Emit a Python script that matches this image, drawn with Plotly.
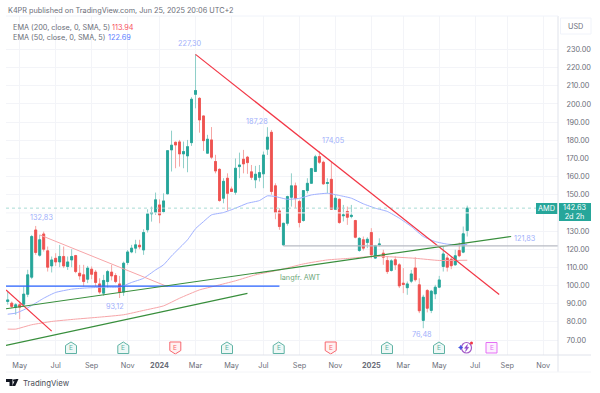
import plotly.graph_objects as go
import pandas as pd

dates = [d.strftime("%Y-%m-%d") for d in pd.date_range("2023-04-10", "2025-06-23", freq="7D")]

opens = [91.2,90.3,88.1,89.4,89.7,95.2,104.6,130.6,116.7,128.4,119.1,110.8,115,113,116,110.5,114.1,116.5,106.8,105.9,
 103.5,109,107.4,100.9,95.8,102.2,107.4,105.5,100.9,96.4,112.7,118.5,120.6,122.2,119.6,130.7,139.5,140.2,144.4,140.7,
 150.5,174.7,178.9,179.1,172.5,171.4,178.7,205.3,203.1,193.4,172.9,180.2,168.3,164,148.1,159.1,153.2,151.4,165.5,169.6,
 170.7,162.6,158.2,159.6,161.5,175.1,184.4,154.9,141.1,122.4,134.3,148.6,154.9,146.3,135.8,152.3,156.3,162.8,171,167.9,
 156.2,158.5,142,147.5,138.4,140.8,138,135.8,119.3,125.2,123.7,129.2,115.1,122.4,117.8,113.8,108.3,114.2,111.4,101.3,
 98.8,102.4,109.7,100.4,80.8,97.3,86.3,95.4,99.1,110.5,115.2,114.5,111.4,119.3,118.4,130.3]
highs = [96.7,91.2,90.3,91.2,99.4,108.7,127.9,132.83,127.9,129.7,121.5,116,117.8,122.4,121.5,116,120,116.9,111.4,111.4,
 110.8,110.5,108.6,104,105.9,108.6,111.4,106.8,105.3,113.2,119.6,122.4,125.2,125.2,131,142,143.5,151.2,147.5,150.8,
 174.6,185.3,179.3,180.2,179.3,180.2,203.7,227.3,203.7,193.6,183,187.28,172,164.5,159.1,161.8,154.5,170,173.2,174.7,
 171.4,166.4,165.9,166.4,173.8,187.2,185.7,156.3,142.6,134.5,149.5,161.8,156.7,147.2,152.6,159.1,164.8,172,174.05,168.8,
 159.1,168.3,149.9,148,144.4,143.5,144.4,136.2,126.6,127,126.6,131.6,122.4,126,119.7,116,114.5,116,112.3,109.6,
 102.2,108.6,115.6,104,94.9,98,97.6,100.4,105.3,121.5,116.9,116,119.7,123.7,132.5,144]
lows = [89.4,87.6,83.9,81.5,88.4,93.6,103.5,116.9,115.9,118.7,107.7,107.2,110.8,110.1,109.6,108.6,110.1,106.8,103.2,99.5,
 101.3,103.5,99.5,95.4,94.3,98.6,102.8,101.3,93.12,94.3,111.4,117.8,117.8,120,116.9,129.2,135.2,138.9,134.3,139.8,
 150.3,162.8,164.6,165.5,164.6,162.4,176.9,197.6,184.2,174.1,172.7,169.6,161.8,146.2,145.3,141.3,151.5,150,159.1,161.8,
 161.5,158.2,153.6,157.3,153.6,171.9,150,136.5,130.7,121.83,133,143.5,142.6,132,135.2,150.8,156,162.5,167,155.5,
 150.8,141.7,141.7,134,135.3,133.4,137,126,118.6,119.3,120.6,115,114.6,121.5,111.4,106.4,107.7,108.6,98.6,95.8,
 94.9,101.3,102.2,84.8,76.48,85.2,84.8,92.5,98.6,107.7,107.7,109,111,115.6,117.8,127]
closes = [92.1,88.5,89.4,88.1,95.3,105.9,127,118.2,125.2,120,110.1,114.1,113,116,110.8,113,116,107.7,105.3,102.2,
 109.6,106.2,101.7,96.4,102.8,107.7,105.3,102.2,96.2,112.3,118.5,120.6,122.4,121.3,129.2,139.5,140.2,147.2,138.9,146.6,
 174.3,177.3,177.4,172.5,173.8,176.5,202.6,207.4,191.2,179.8,180.6,170.7,163.1,146.8,157.4,150.8,151.8,164.6,166.4,167,
 167.7,159.6,161.3,162.2,171.9,181.7,151.8,140.2,132.5,134.3,149,154.9,148.1,134.7,152.3,156.3,164.4,170.9,167.9,156,
 156.7,142,148.1,134.7,138.9,137.6,138.7,126.6,126,120.6,125.5,116.9,121.9,122.9,115.6,107.7,113.6,111.4,99.8,100.6,
 100.9,106.4,103.2,86.1,93.6,87.5,96.9,99.1,103.1,117.4,110.1,110.9,116.4,116.4,128.5,142.63]

ema50_i = [0,2,4,6,9,12,16,20,24,28,31,34,37,39,41,45,47,49,51,54,57,60,63,65,67,70,73,76,80,83,86,89,92,95,98,101,104,107,110,113,115]
ema50 = [84.2,84.8,86.6,89,93,96.2,98,98.7,99.1,99.1,101.7,104,108.6,111.4,116.3,125.2,131.3,135.2,138.9,140.2,142.6,145.3,146.8,149.4,149,147.5,148,149.9,150.8,149.6,148.1,145,142.6,140.8,137.1,132.5,127,124.2,122.8,122.4,122.69]
ema200_i = [0,2,6,11,17,23,29,34,39,43,48,52,57,62,68,74,80,85,91,94,102,108,115]
ema200 = [76,76,78.4,80.2,81.5,82.6,83.9,86.3,88.8,93,97.6,99.8,102.6,105.9,108.6,111.9,114.1,114.9,116,116,115,113.8,113.94]

x_ticks = ["2023-05-01","2023-07-03","2023-09-04","2023-11-06","2024-01-01","2024-03-04","2024-05-06","2024-07-01","2024-09-02","2024-11-04","2025-01-06","2025-03-03","2025-05-05","2025-07-07","2025-09-01","2025-11-03"]
x_labels = ["May","Jul","Sep","Nov","<b>2024</b>","Mar","May","Jul","Sep","Nov","<b>2025</b>","Mar","May","Jul","Sep","Nov"]
y_ticks = [70,80,90,100,110,120,130,150,160,170,180,190,200,210,220,230]
y_grid_extra = [140]
y_labels = [f"{v}.00" for v in y_ticks]

X0, X1 = "2023-04-07", "2025-11-29"
trend_lines = [
    ("main_red", ["2024-03-04","2025-08-18"], [227.3,95.1], "#f23645", 1.2),
    ("light_red", ["2023-06-05","2024-01-15"], [127.9,99.4], "#f7a5a8", 1),
    ("steep_red", [X0,"2023-06-26"], [97.6,74.9], "#f23645", 1.2),
    ("support", [X0,"2024-07-29"], [99.65,99.65], "#2962ff", 1.3),
    ("green_1", [X0,"2025-09-08"], [87.2,127], "#388e3c", 1.2),
    ("green_2", [X0,"2024-06-03"], [67,95.7], "#388e3c", 1.2),
    ("grey", ["2024-08-05",X1], [121.83,121.83], "#b8bbc4", 1.1),
]

UP, DOWN = "#26a69a", "#ef5350"
UP_W, DOWN_W = "#8fcfc9", "#f5a6a4"
FONT = "Inter"
GREY = "#6a6d78"
TS = 7.3
L, R, T, B = 6, 558, 16, 355
def px(x): return (x - L) / (R - L)
def py(y): return (B - y) / (B - T)

fig = go.Figure()
fig.add_trace(go.Scatter(x=[X0, X1], y=[y_grid_extra[0]]*2, mode="lines", line=dict(color="#f3f4f8", width=1)))
fig.add_trace(go.Scatter(x=[dates[i] for i in ema50_i], y=ema50, mode="lines", line=dict(color="#9fb0ff", width=1, shape="spline", smoothing=0.5)))
fig.add_trace(go.Scatter(x=[dates[i] for i in ema200_i], y=ema200, mode="lines", line=dict(color="#f7a5a8", width=1, shape="spline", smoothing=0.5)))
fig.add_trace(go.Scatter(x=[X0, "2025-10-26"], y=[closes[-1], closes[-1]], mode="lines",
                         line=dict(color="#a8dbd5", width=1, dash="dot")))
fig.add_trace(go.Candlestick(x=dates, open=opens, high=highs, low=lows, close=closes, whiskerwidth=0,
    increasing=dict(line=dict(color=UP_W, width=1), fillcolor=UP), decreasing=dict(line=dict(color=DOWN_W, width=1), fillcolor=DOWN)))
fig.add_trace(go.Candlestick(x=dates, open=opens, close=closes,
    high=[max(a, b) for a, b in zip(opens, closes)], low=[min(a, b) for a, b in zip(opens, closes)], whiskerwidth=0,
    increasing=dict(line=dict(color=UP, width=0.8), fillcolor=UP), decreasing=dict(line=dict(color=DOWN, width=0.8), fillcolor=DOWN)))
for name, xs, ys, col, w in trend_lines:
    fig.add_trace(go.Scatter(x=xs, y=ys, mode="lines", name=name, line=dict(color=col, width=w)))

shapes, anns = [], []
def text(x, y, s, color=GREY, size=TS, anchor="center", **kw):
    anns.append(dict(x=px(x), y=py(y), xref="paper", yref="paper", text=s, showarrow=False, xanchor=anchor, yanchor="middle",
                     font=dict(family=FONT, size=size, color=color), **kw))
def path(d, line, fill="rgba(0,0,0,0)", w=1):
    shapes.append(dict(type="path", path=d, xref="paper", yref="paper", line=dict(color=line, width=w), fillcolor=fill))
def poly(points):
    return "M " + " L ".join(f"{px(a):.5f},{py(b):.5f}" for a, b in points) + " Z"
def rect(x0, y0, x1, y1, fill, line=None):
    shapes.append(dict(type="rect", xref="paper", yref="paper", x0=px(x0), x1=px(x1), y0=py(y1), y1=py(y0), fillcolor=fill,
                       line=dict(color=line or fill, width=1 if line else 0)))

# header + legend
text(6, 10.5, "K4PR published on TradingView.com, Jun 25, 2025 20:06 UTC+2", anchor="left")
text(11, 27, "EMA (200, close, 0, SMA, 5)", anchor="left")
text(110, 27, "113.94", "#f7525f", anchor="left")
text(11, 37, "EMA (50, close, 0, SMA, 5)", anchor="left")
text(106, 37, "122.69", "#5b7cff", anchor="left")

# value labels
for lx, ly, s in [(190,43,"227,30"),(257,121,"187,28"),(333,140.7,"174,05"),(41,217.7,"132,83"),(114.5,306.7,"93,12"),(422,334.7,"76,48"),(524.7,238,"121,83")]:
    text(lx, ly, s, "#9fb0fb")
text(300, 277.3, "langfr. AWT", "#6ea67a")

# earnings icons
for cx, kind in [(71,"g"),(123.3,"g"),(175.3,"r"),(227,"g"),(278.7,"g"),(330.7,"r"),(387,"g"),(439,"g")]:
    if kind == "g":
        col, tint = "#5fb3a4", "#eef8f6"
        pts = [(cx-5.5,345.5),(cx,342),(cx+5.5,345.5),(cx+5.5,353.5),(cx-5.5,353.5)]
    else:
        col, tint = "#f7676f", "#fff1f1"
        pts = [(cx-5.5,342),(cx+5.5,342),(cx+5.5,350.5),(cx,354),(cx-5.5,350.5)]
    path(poly(pts), col, tint, 1)
    text(cx, 348, "E", col, 6.5)
path(poly([(486,342.5),(497,342.5),(497,353),(486,353)]), "#e56ff5", "#fcf0fe", 1)
text(491.5, 347.8, "E", "#e56ff5", 6.5)
# dividend/lightning icon
shapes.append(dict(type="circle", xref="paper", yref="paper", x0=px(461.5), x1=px(471.5), y0=py(353), y1=py(342.5),
                   line=dict(color="#a45bc8", width=1.2), fillcolor="white"))
path(poly([(467.5,344.5),(464.5,348.3),(466.4,348.3),(465.5,351.5),(468.7,347.3),(466.8,347.3)]), "#8e44c9", "#8e44c9", 0.5)
path(poly([(458.5,347.5),(460,346.7),(460.7,345.2),(461.4,346.7),(463,347.5),(461.4,348.3),(460.7,349.8),(460,348.3)]), "#3f51e0", "#3f51e0", 0.5)
shapes.append(dict(type="circle", xref="paper", yref="paper", x0=px(470), x1=px(473), y0=py(344.5), y1=py(341.5),
                   line=dict(width=0), fillcolor="#f23645"))

# price labels
rect(536, 203, 557.5, 214, UP)
text(546.8, 208.5, "AMD", "white")
rect(559, 203, 591, 221, UP)
text(575, 212, "142.63<br>2d 2h", "white")
rect(560.5, 18, 591, 34, "white", "#f0f3fa")
text(575.5, 26.5, "USD")

# axis frame
shapes.append(dict(type="line", xref="paper", yref="paper", x0=px(R), x1=px(R), y0=py(372), y1=py(T), line=dict(color="#e0e3eb", width=1)))
shapes.append(dict(type="line", xref="paper", yref="paper", x0=px(L), x1=px(591), y0=py(372), y1=py(372), line=dict(color="#f4f5f8", width=1)))
shapes.append(dict(type="line", xref="paper", yref="paper", x0=px(L), x1=px(591), y0=py(355), y1=py(355), line=dict(color="#e0e3eb", width=1)))
shapes.append(dict(type="line", xref="paper", yref="paper", x0=px(L), x1=px(R), y0=py(T), y1=py(T), line=dict(color="#f0f3fa", width=1)))

# TradingView logo
path(poly([(6,379),(12.5,379),(12.5,386),(9.5,386),(9.5,382),(6,382)]), "#131722", "#131722", 0)
shapes.append(dict(type="circle", xref="paper", yref="paper", x0=px(13), x1=px(15.4), y0=py(381.6), y1=py(379.2), line=dict(width=0), fillcolor="#131722"))
path(poly([(15.5,379),(18.5,379),(15.2,386),(12.2,386)]), "#131722", "#131722", 0)
text(20.5, 382.5, "TradingView", "#4a4d57", 7.8, "left")

fig.update_layout(
    width=600, height=393, autosize=False, margin=dict(l=L, r=600-R, t=T, b=393-B),
    paper_bgcolor="white", plot_bgcolor="white", showlegend=False, shapes=shapes, annotations=anns,
    font=dict(family=FONT, size=TS, color=GREY),
    xaxis=dict(type="date", range=[X0, X1], rangeslider=dict(visible=False), tickmode="array", tickvals=x_ticks, ticktext=x_labels,
               showgrid=True, gridcolor="#f3f4f8", gridwidth=1, ticks="outside", ticklen=3, tickcolor="white", zeroline=False, showline=False,
               tickfont=dict(family=FONT, size=TS, color=GREY)),
    yaxis=dict(side="right", range=[61.74, 248.45], tickmode="array", tickvals=y_ticks, ticktext=y_labels, showgrid=True,
               gridcolor="#f3f4f8", gridwidth=1, ticks="outside", ticklen=6, tickcolor="white", zeroline=False, showline=False,
               tickfont=dict(family=FONT, size=TS, color=GREY)),
)
fig.write_html("out.html", config={"displayModeBar": False},
               post_script="document.body.style.margin='0';document.documentElement.style.overflow='hidden';")
